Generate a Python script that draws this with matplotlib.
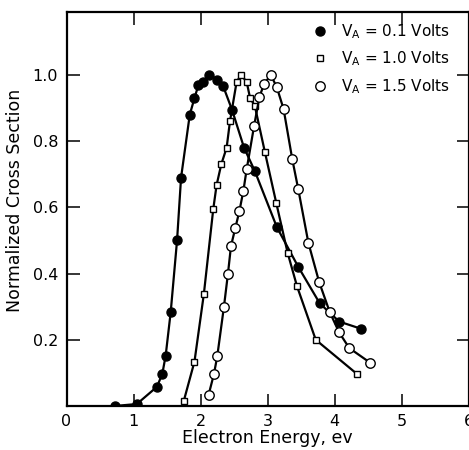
import matplotlib.pyplot as plt

# V_A = 0.1 Volts (filled circles)
x_01 = [0.72, 1.05, 1.35, 1.43, 1.48, 1.555, 1.65, 1.71, 1.84, 1.91, 1.97, 2.04,
        2.13, 2.25, 2.34, 2.47, 2.65, 2.81, 3.14, 3.46, 3.78, 4.07, 4.40]
y_01 = [0.0, 0.006, 0.058, 0.097, 0.152, 0.283, 0.50, 0.69, 0.88, 0.93, 0.97, 0.98,
        1.0, 0.986, 0.965, 0.895, 0.78, 0.71, 0.54, 0.42, 0.31, 0.255, 0.233]

# V_A = 1.0 Volts (open squares)
x_10 = [1.75, 1.91, 2.05, 2.19, 2.24, 2.31, 2.39, 2.44, 2.54, 2.61, 2.69, 2.74,
        2.81, 2.96, 3.13, 3.30, 3.44, 3.72, 4.34]
y_10 = [0.015, 0.134, 0.338, 0.594, 0.667, 0.73, 0.78, 0.86, 0.98, 1.0, 0.978, 0.93,
        0.907, 0.768, 0.614, 0.463, 0.362, 0.20, 0.096]

# V_A = 1.5 Volts (open circles)
x_15 = [2.12, 2.20, 2.25, 2.35, 2.41, 2.455, 2.52, 2.58, 2.64, 2.69, 2.80, 2.88,
        2.95, 3.05, 3.14, 3.24, 3.37, 3.46, 3.61, 3.77, 3.93, 4.07, 4.22, 4.53]
y_15 = [0.033, 0.096, 0.15, 0.30, 0.40, 0.483, 0.538, 0.588, 0.65, 0.716, 0.846, 0.934,
        0.973, 1.0, 0.962, 0.897, 0.745, 0.654, 0.493, 0.375, 0.283, 0.222, 0.175, 0.131]

x_ticks = [0, 1, 2, 3, 4, 5, 6]
y_ticks = [0.2, 0.4, 0.6, 0.8, 1.0]

plt.rcParams['font.family'] = 'DejaVu Sans'

fig = plt.figure(figsize=(4.69, 4.5), dpi=100)
ax = fig.add_axes([66.5 / 469, 44 / 450, 402 / 469, 394 / 450])

ax.plot(x_01, y_01, '-o', color='black', lw=1.6, ms=6.5, mfc='black', mec='black',
        label=r'V$_\mathregular{A}$ = 0.1 Volts')
ax.plot(x_10, y_10, '-s', color='black', lw=1.6, ms=4.2, mfc='white', mec='black', mew=1.0,
        label=r'V$_\mathregular{A}$ = 1.0 Volts')
ax.plot(x_15, y_15, '-o', color='black', lw=1.6, ms=6.8, mfc='white', mec='black', mew=1.0,
        label=r'V$_\mathregular{A}$ = 1.5 Volts')

ax.set_xlim(0, 6)
ax.set_ylim(0, 1.19)
ax.set_xticks(x_ticks)
ax.set_xticklabels([str(t) for t in x_ticks])
ax.set_yticks(y_ticks)
ax.set_yticklabels(['%.1f' % t for t in y_ticks])
ax.tick_params(direction='in', length=9, width=1.1, labelsize=11.5, pad=6,
               top=True, right=True)
for spine in ax.spines.values():
    spine.set_linewidth(1.6)

leg = ax.legend(loc='upper right', bbox_to_anchor=(0.955, 0.975), frameon=False,
                fontsize=11, handlelength=0.8, handletextpad=1.0, labelspacing=0.6,
                borderpad=0, borderaxespad=0)
for h in leg.legend_handles:
    h.set_linestyle('none')

fig.text(15 / 469, 1 - 200 / 450, 'Normalized Cross Section', rotation=90,
         ha='center', va='center', fontsize=12.5)
fig.text(267 / 469, 1 - 438 / 450, 'Electron Energy, ev', ha='center', va='center',
         fontsize=12.5)

fig.savefig('out.png', dpi=100)
